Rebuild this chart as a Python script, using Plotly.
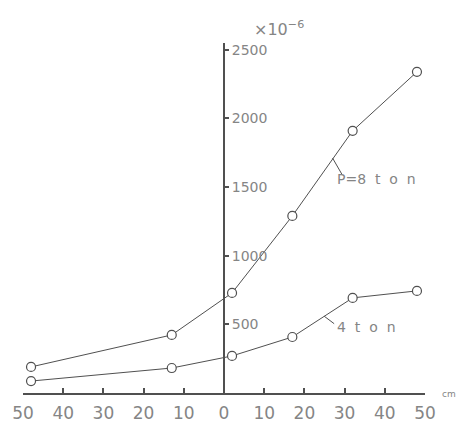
import plotly.graph_objects as go

# Data
x_pos = [-48, -13, 2, 17, 32, 48]
strain_8ton = [190, 423, 729, 1290, 1910, 2340]
strain_4ton = [87, 182, 270, 408, 693, 744]

x_tickvals = [-50, -40, -30, -20, -10, 0, 10, 20, 30, 40, 50]
x_ticktext = ["50", "40", "30", "20", "10", "0", "10", "20", "30", "40", "50"]
y_tickvals = [500, 1000, 1500, 2000, 2500]
y_ticktext = ["500", "1000", "1500", "2000", "2500"]

W, H = 461, 423
line_col = "#505050"
text_col = "#858585"
font_fam = "DejaVu Sans"
NB = "\u00a0"

xd0, xd1 = 23 / W, 425 / W
yd0, yd1 = (H - 393) / H, (H - 43) / H
x_range = [-50, 50]
y_range = [0, 2550]
yaxis_pos = xd0 + (0 - x_range[0]) / (x_range[1] - x_range[0]) * (xd1 - xd0)

fig = go.Figure()
for ys in (strain_8ton, strain_4ton):
    fig.add_trace(go.Scatter(
        x=x_pos, y=ys, mode="lines+markers",
        line=dict(color=line_col, width=1),
        marker=dict(symbol="circle", size=9, color="white",
                    line=dict(color=line_col, width=1.2)),
        cliponaxis=False, showlegend=False, hoverinfo="skip",
    ))

# leader lines
fig.add_shape(type="line", x0=27, y0=1712, x1=29.3, y1=1595,
              line=dict(color=line_col, width=1))
fig.add_shape(type="line", x0=24.9, y0=560, x1=27.4, y1=505,
              line=dict(color=line_col, width=1))

label_8 = "P=8" + NB * 2 + "t" + NB * 2 + "o" + NB * 2 + "n"
label_4 = "4" + NB * 2 + "t" + NB * 2 + "o" + NB * 2 + "n"

annos = [
    dict(xref="x", yref="y", x=27.6, y=1560, text=label_8,
         xanchor="left", yanchor="middle",
         font=dict(size=14, color=text_col, family=font_fam)),
    dict(xref="x", yref="y", x=27.6, y=478, text=label_4,
         xanchor="left", yanchor="middle",
         font=dict(size=14, color=text_col, family=font_fam)),
    dict(xref="paper", yref="paper", x=252 / W, y=(H - 29) / H,
         text="×10<sup>−6</sup>", xanchor="left", yanchor="middle",
         font=dict(size=16, color=text_col, family=font_fam)),
    dict(xref="paper", yref="paper", x=440 / W, y=(H - 394) / H,
         text="cm", xanchor="left", yanchor="middle",
         font=dict(size=9, color=text_col, family=font_fam)),
]
for a in annos:
    fig.add_annotation(showarrow=False, **a)

fig.update_layout(
    width=W, height=H,
    margin=dict(l=0, r=0, t=0, b=0, autoexpand=False),
    paper_bgcolor="white", plot_bgcolor="white",
    xaxis=dict(
        domain=[xd0, xd1], range=x_range, showgrid=False, zeroline=False,
        showline=True, linecolor=line_col, linewidth=1.5,
        ticks="inside", ticklen=5, tickwidth=1.5, tickcolor=line_col,
        tickvals=x_tickvals, ticktext=x_ticktext,
        tickfont=dict(size=17, color=text_col, family=font_fam),
        ticklabelstandoff=4,
        anchor="y", fixedrange=True, automargin=False,
    ),
    yaxis=dict(
        domain=[yd0, yd1], range=y_range, showgrid=False, zeroline=False,
        showline=True, linecolor=line_col, linewidth=2,
        ticks="outside", ticklen=4, tickwidth=1.5, tickcolor=line_col,
        tickvals=y_tickvals, ticktext=y_ticktext,
        tickfont=dict(size=14, color=text_col, family=font_fam),
        side="right", anchor="free", position=yaxis_pos, fixedrange=True,
        automargin=False,
    ),
)

fig.write_html("out.html")
